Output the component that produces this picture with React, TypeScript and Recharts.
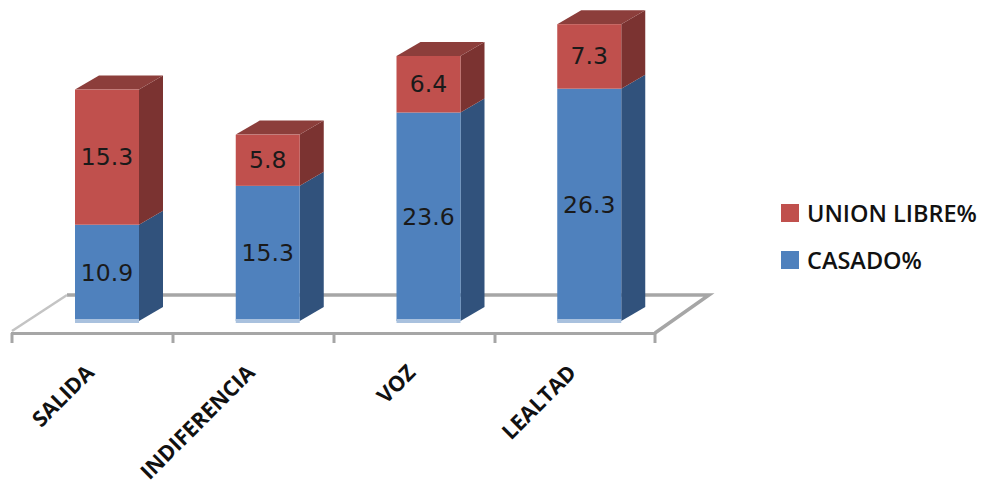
import { BarChart, Bar, XAxis, YAxis, Legend, LabelList, Customized } from "recharts";

const categories = ["SALIDA", "INDIFERENCIA", "VOZ", "LEALTAD"];
const casado = [10.9, 15.3, 23.6, 26.3];
const unionLibre = [15.3, 5.8, 6.4, 7.3];

const data = categories.map((name, i) => ({ name, casado: casado[i], unionLibre: unionLibre[i] }));

// 3D look: bars sit further back than the band centre and get a depth offset
const SHIFT = 15;
const DEPTH_X = 24;
const DEPTH_Y = 14;
const FONT = "'DejaVu Sans', sans-serif";
const AXIS_GREY = "#a6a6a6";

const Floor = () => (
  <g>
    <polygon points="12,333 67,295 709,295 655,333" fill="#fff" />
    <polyline points="67,295 709,295 655,333" fill="none" stroke={AXIS_GREY} strokeWidth={3.5} />
    <line x1={12} y1={331} x2={67} y2={295} stroke="#c4c4c4" strokeWidth={2.5} />
    <line x1={11} y1={333.5} x2={656} y2={333.5} stroke={AXIS_GREY} strokeWidth={3} />
    {[12, 173, 334, 495, 655].map((x) => (
      <line key={x} x1={x} y1={333} x2={x} y2={343} stroke={AXIS_GREY} strokeWidth={3} />
    ))}
  </g>
);

const Box = ({ x, y, width, height, front, side, top, capped, base }: any) => {
  const left = x + SHIFT;
  const right = left + width;
  const bottom = y + height;
  return (
    <g>
      <polygon
        points={`${right},${y} ${right + DEPTH_X},${y - DEPTH_Y} ${right + DEPTH_X},${bottom - DEPTH_Y} ${right},${bottom}`}
        fill={side}
      />
      {capped && (
        <polygon
          points={`${left},${y} ${left + DEPTH_X},${y - DEPTH_Y} ${right + DEPTH_X},${y - DEPTH_Y} ${right},${y}`}
          fill={top}
        />
      )}
      <rect x={left} y={y} width={width} height={height} fill={front} />
      {base && <rect x={left} y={bottom - 2} width={width} height={4} fill="#a9c1de" />}
    </g>
  );
};

const BlueBox = (props: any) => <Box {...props} front="#4f81bd" side="#31527c" base />;
const RedBox = (props: any) => <Box {...props} front="#c0504d" side="#7b3331" top="#8c3e3b" capped />;

const BarValue = ({ x, y, width, height, value }: any) => (
  <text
    x={x + SHIFT + width / 2}
    y={y + height / 2}
    textAnchor="middle"
    dominantBaseline="central"
    fontFamily={FONT}
    fontSize={23.5}
    fill="#1a1a1a"
  >
    {value}
  </text>
);

const CategoryTick = ({ x, y, payload }: any) => (
  <g transform={`translate(${x + 3},${y + 45}) rotate(-45)`}>
    <text textAnchor="end" fontFamily="'Open Sans', sans-serif" fontWeight={700} fontSize={21.5} fill="#111">
      {payload.value}
    </text>
  </g>
);

const LegendBox = ({ payload }: any) => (
  <div style={{ fontFamily: "'Open Sans', sans-serif", fontWeight: 600, fontSize: 23.5, color: "#111", whiteSpace: "nowrap" }}>
    {[...(payload ?? [])].reverse().map((entry: any) => (
      <div key={entry.value} style={{ display: "flex", alignItems: "center", height: 47 }}>
        <span style={{ width: 18, height: 18, background: entry.color, marginRight: 8 }} />
        {entry.value}
      </div>
    ))}
  </div>
);

export default function App() {
  return (
    <div style={{ position: "absolute", left: 0, top: 0, width: 984, height: 487, overflow: "hidden", background: "#fff" }}>
      <BarChart width={984} height={487} data={data} margin={{ top: 3, right: 329, bottom: 0, left: 12 }} barSize={64}>
        <Customized component={Floor} />
        <XAxis dataKey="name" height={166} axisLine={false} tickLine={false} interval={0} tick={CategoryTick} />
        <YAxis hide domain={[0, 36]} />
        <Bar dataKey="casado" name="CASADO%" stackId="a" fill="#4f81bd" shape={BlueBox} isAnimationActive={false}>
          <LabelList dataKey="casado" content={BarValue} />
        </Bar>
        <Bar dataKey="unionLibre" name="UNION LIBRE%" stackId="a" fill="#c0504d" shape={RedBox} isAnimationActive={false}>
          <LabelList dataKey="unionLibre" content={BarValue} />
        </Bar>
        {/* vertical + center + middle keeps the legend out of the plot margins */}
        <Legend
          layout="vertical"
          align="center"
          verticalAlign="middle"
          content={LegendBox}
          wrapperStyle={{ left: 781, top: 189, width: 203 }}
        />
      </BarChart>
    </div>
  );
}
